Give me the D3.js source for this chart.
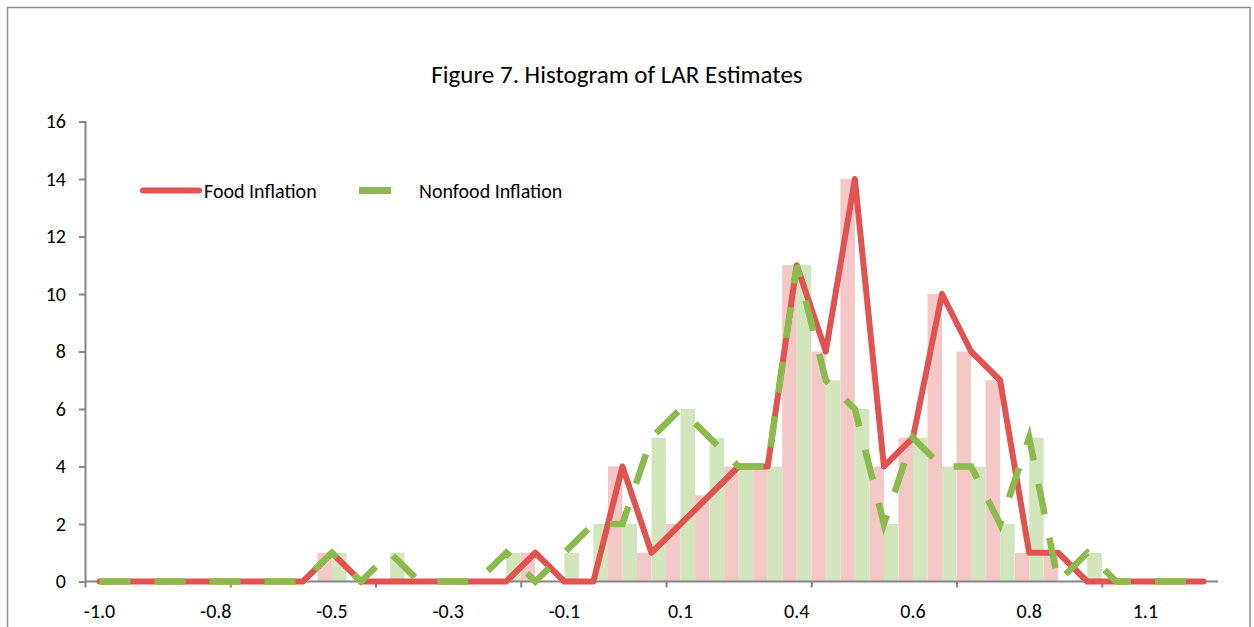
<!DOCTYPE html>
<html>
<head>
<meta charset="utf-8">
<script src="https://cdn.jsdelivr.net/npm/d3@7"></script>
<style>
  body { margin: 0; background: #fff; }
  text { font-family: Calibri, Carlito, Lato, sans-serif; fill: #000; }
</style>
</head>
<body>
<svg width="1254" height="627"></svg>
<script>
// counts per bin
const food    = [0,0,0,0,0,0,0,0,1,0,0,0,0,0,0,1,0,0,4,1,2,3,4,4,11,8,14,4,5,10,8,7,1,1,0,0,0,0,0];
const nonfood = [0,0,0,0,0,0,0,0,1,0,1,0,0,0,1,0,1,2,2,5,6,5,4,4,11,7,6,2,5,4,4,2,5,0,1,0,0,0,0];
// labels shown on every 4th bin
const tickLabels = ["-1.0","-0.8","-0.5","-0.3","-0.1","0.1","0.4","0.6","0.8","1.1"];
const yTicks = [0,2,4,6,8,10,12,14,16];

const bins = d3.range(food.length);
const red = "#e05350", green = "#8cbb4d";
const axisColor = "#868686";
const labelSize = 20;

const svg = d3.select("svg");

// chart frame
svg.append("rect")
  .attr("x", 7.5).attr("y", 7.5)
  .attr("width", 1242.5).attr("height", 660)
  .attr("fill", "none").attr("stroke", "#8e8e8e").attr("stroke-width", 1.5);

const x = d3.scaleBand().domain(bins).range([85, 1218]);
const xEdge = d3.scaleLinear().domain([0, bins.length]).range([85, 1218]);
const xSub = d3.scaleBand().domain(["food", "nonfood"]).range([0, x.bandwidth()]);
const y = d3.scaleLinear().domain([0, 16]).range([581.5, 121.5]);
const cx = i => x(i) + x.bandwidth() / 2;

svg.append("text")
  .attr("x", 617).attr("y", 83)
  .attr("text-anchor", "middle")
  .attr("font-size", 25)
  .text("Figure 7. Histogram of LAR Estimates");

// bars
const series = [
  { key: "food", values: food, fill: "#f5c8c8" },
  { key: "nonfood", values: nonfood, fill: "#d3e5bd" }
];
series.forEach(s => {
  svg.append("g").selectAll("rect")
    .data(s.values)
    .enter()
    .append("rect")
    .attr("x", (d, i) => x(i) + xSub(s.key))
    .attr("width", xSub.bandwidth())
    .attr("y", d => y(d))
    .attr("height", d => y(0) - y(d))
    .attr("fill", s.fill);
});

// y axis
const yAxis = d3.axisLeft(y).tickValues(yTicks).tickSize(6).tickPadding(13);
const gy = svg.append("g").attr("transform", "translate(85,0)").call(yAxis);
gy.attr("font-size", null).attr("font-family", null);
gy.selectAll("text").attr("font-size", labelSize);

// x axis: marks every 5 bins, labels every 4 bins
const gxMarks = svg.append("g").attr("transform", "translate(0,581.5)")
  .call(d3.axisBottom(xEdge).tickValues(d3.range(0, bins.length, 5)).tickSize(6).tickFormat(""));
const gxLabels = svg.append("g").attr("transform", "translate(0,581.5)")
  .call(d3.axisBottom(x).tickValues(bins.filter(i => i % 4 === 0)).tickSize(0).tickPadding(22)
    .tickFormat(i => tickLabels[i / 4]));
gxLabels.attr("font-size", null).attr("font-family", null);
gxLabels.select(".domain").remove();
gxLabels.selectAll("text").attr("font-size", labelSize);
gxMarks.select(".domain").attr("d", "M85,0H1218");

[gy, gxMarks].forEach(g => {
  g.selectAll(".domain, line").attr("stroke", axisColor).attr("stroke-width", 2);
});
svg.selectAll(".tick text").attr("fill", "#000");

// lines
const line = d3.line().x((d, i) => cx(i)).y(d => y(d));
svg.append("path")
  .datum(food)
  .attr("d", line)
  .attr("fill", "none")
  .attr("stroke", red)
  .attr("stroke-width", 6)
  .attr("stroke-linejoin", "round")
  .attr("stroke-linecap", "round");
svg.append("path")
  .datum(nonfood)
  .attr("d", line)
  .attr("fill", "none")
  .attr("stroke", green)
  .attr("stroke-width", 6.5)
  .attr("stroke-dasharray", "31,24");

// legend
const legend = svg.append("g");
legend.append("line")
  .attr("x1", 143).attr("x2", 199).attr("y1", 190.5).attr("y2", 190.5)
  .attr("stroke", red).attr("stroke-width", 6).attr("stroke-linecap", "round");
legend.append("text").attr("x", 204).attr("y", 197.5).attr("font-size", labelSize).text("Food Inflation");
legend.append("line")
  .attr("x1", 359).attr("x2", 391).attr("y1", 190.5).attr("y2", 190.5)
  .attr("stroke", green).attr("stroke-width", 7);
legend.append("text").attr("x", 419).attr("y", 197.5).attr("font-size", labelSize).text("Nonfood Inflation");
</script>
</body>
</html>
